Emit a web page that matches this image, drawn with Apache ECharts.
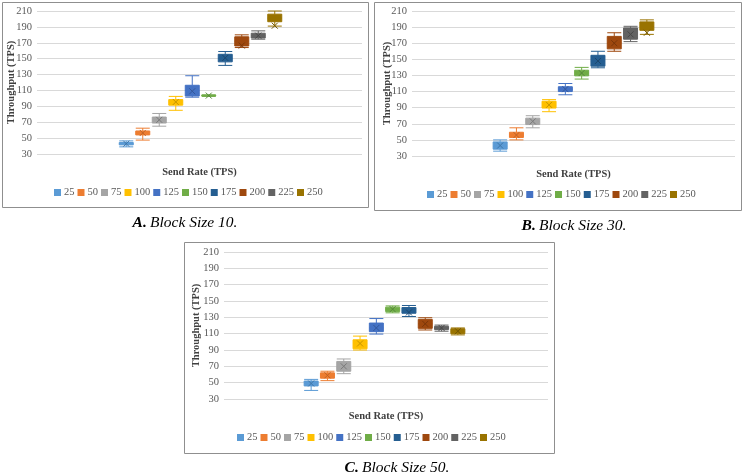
<!DOCTYPE html>
<html>
<head>
<meta charset="utf-8">
<script src="https://cdn.jsdelivr.net/npm/echarts@6/dist/echarts.min.js"></script>
<style>
  html, body { margin: 0; padding: 0; background: #fff; }
  #chart { width: 743px; height: 475px; }
</style>
</head>
<body>
<div id="chart"></div>
<script>
// send rates (legend / categories)
var sendRates = ['25', '50', '75', '100', '125', '150', '175', '200', '225', '250'];

// [min, q1, median, q3, max] per send rate
var block10Box = [
  [39, 41.5, 42.5, 44.5, 46.5],
  [47.5, 54, 56.5, 59, 62.5],
  [65, 69, 73, 76.5, 81],
  [85, 91.5, 95.5, 98.5, 102.5],
  [101.5, 103, 110, 116.5, 128.5],
  [102.5, 103, 103.5, 104, 104.5],
  [141.5, 146, 150.5, 155.5, 159],
  [164, 166, 172, 177.5, 180],
  [174.5, 176, 179, 182, 185],
  [191, 196.5, 201, 206, 210]
];
var block10Mean = [43, 56.5, 73, 95.5, 109, 103.5, 151, 166.5, 179, 191.5];

var block30Box = [
  [36, 38.5, 42, 47.5, 50],
  [50, 53, 56, 59.5, 65],
  [65, 69, 73, 77, 80],
  [85, 89.5, 93, 98, 100],
  [106, 110, 113, 116, 120],
  [125.5, 129.5, 133, 136.5, 140],
  [139.5, 141.5, 148, 155, 160],
  [160, 163, 170, 178.5, 183],
  [172, 175, 182, 189, 191],
  [181, 186, 191, 196.5, 199]
];
var block30Mean = [43, 56, 73, 93.5, 113, 133, 148, 170, 181, 183];

var block50Box = [
  [40.5, 46, 49, 52, 54],
  [52.5, 55.5, 59, 62, 64],
  [61, 64, 68, 76, 79],
  [90, 91.5, 98, 102.5, 107],
  [109.5, 112.5, 117, 123, 128.5],
  [135.5, 137, 140, 142.5, 144],
  [131, 135, 138, 142, 144.5],
  [114.5, 116.5, 122, 127.5, 129.5],
  [113, 115, 117, 119, 120.5],
  [108.5, 110, 113, 116, 117]
];
var block50Mean = [49, 59, 70, 98, 117, 140, 136, 122, 117, 113];

var yMin = 30, yMax = 210, yStep = 20;

var colors = ['#5B9BD5', '#ED7D31', '#A5A5A5', '#FFC000', '#4472C4',
              '#70AD47', '#255E91', '#9E480E', '#636363', '#997300'];
var meanColors = ['#3f76a8', '#bf6224', '#7a7a7a', '#c49400', '#33579a',
                  '#55873a', '#1b476e', '#7a3609', '#474747', '#735600'];

var FONT = 'Liberation Serif';

// panel layout
var panels = [
  { box: block10Box, mean: block10Mean, plot: [37, 11, 325, 143], narrow: [118, 165],
    yGap: 20, xGap: 13, legend: [49, 182] },
  { box: block30Box, mean: block30Mean, plot: [412, 11, 323, 145], narrow: [492, 163],
    yGap: 19.5, xGap: 13, legend: [422, 184] },
  { box: block50Box, mean: block50Mean, plot: [224, 252, 324, 147], narrow: [303, 163],
    yGap: 22, xGap: 12, legend: [232, 427] }
];

var grid = [], xAxis = [], yAxis = [], series = [], legend = [];

panels.forEach(function (p, i) {
  var g = i * 2;
  grid.push({ left: p.plot[0], top: p.plot[1], width: p.plot[2], height: p.plot[3] });
  grid.push({ left: p.narrow[0], top: p.plot[1], width: p.narrow[1], height: p.plot[3] });

  xAxis.push({
    gridIndex: g, type: 'category', data: [''],
    axisLine: { show: false }, axisTick: { show: false }, axisLabel: { show: false },
    name: 'Send Rate (TPS)', nameLocation: 'middle', nameGap: p.xGap, nameMoveOverlap: false,
    nameTextStyle: { fontFamily: FONT, fontWeight: 'bold', fontSize: 10.5, color: '#404040' }
  });
  xAxis.push({
    gridIndex: g + 1, type: 'category', data: sendRates, show: false
  });

  yAxis.push({
    gridIndex: g, type: 'value', min: yMin, max: yMax, interval: yStep,
    axisLine: { show: false }, axisTick: { show: false },
    axisLabel: { fontFamily: FONT, fontSize: 10.5, color: '#595959', margin: 5 },
    splitLine: { lineStyle: { color: '#d9d9d9', width: 1 } },
    name: 'Throughput (TPS)', nameLocation: 'middle', nameRotate: 90, nameGap: p.yGap,
    nameMoveOverlap: false,
    nameTextStyle: { fontFamily: FONT, fontWeight: 'bold', fontSize: 10.5, color: '#404040' }
  });
  yAxis.push({
    gridIndex: g + 1, type: 'value', min: yMin, max: yMax, show: false
  });

  series.push({
    type: 'boxplot',
    xAxisIndex: g + 1, yAxisIndex: g + 1,
    boxWidth: [14, 14],
    silent: true,
    data: p.box.map(function (v, k) {
      return { value: v, itemStyle: { color: colors[k], borderColor: colors[k], borderWidth: 1 } };
    })
  });
  series.push({
    type: 'scatter',
    xAxisIndex: g + 1, yAxisIndex: g + 1,
    symbol: 'path://M0,0L10,10M10,0L0,10',
    symbolSize: 6,
    silent: true,
    data: p.mean.map(function (v, k) {
      return { value: v, itemStyle: { color: 'none', borderColor: meanColors[k], borderWidth: 1, opacity: 1 } };
    })
  });

  legend.push({
    data: sendRates, left: p.legend[0], top: p.legend[1],
    icon: 'rect', itemWidth: 7, itemHeight: 7, itemGap: 3,
    selectedMode: false,
    textStyle: { fontFamily: FONT, fontSize: 10.5, color: '#595959', padding: [0, 0, 0, -2] }
  });
});

// empty series so the legends carry the send-rate colours
sendRates.forEach(function (name, k) {
  series.push({
    type: 'scatter', name: name, xAxisIndex: 0, yAxisIndex: 0, data: [],
    itemStyle: { color: colors[k], opacity: 1 }
  });
});

function caption(letter, text, x, y) {
  return {
    type: 'text', x: x, y: y,
    style: {
      text: '{b|' + letter + '} {i|' + text + '}',
      align: 'center', verticalAlign: 'middle',
      rich: {
        b: { fontFamily: FONT, fontSize: 15.5, fontWeight: 'bold', fontStyle: 'italic', fill: '#000' },
        i: { fontFamily: FONT, fontSize: 15.5, fontStyle: 'italic', fill: '#000' }
      }
    }
  };
}

function frame(x, y, w, h) {
  return {
    type: 'rect', shape: { x: x + 0.5, y: y + 0.5, width: w, height: h },
    style: { fill: 'none', stroke: '#8f8f8f', lineWidth: 1 }, silent: true
  };
}

var chart = echarts.init(document.getElementById('chart'));
chart.setOption({
  backgroundColor: '#fff',
  animation: false,
  grid: grid,
  xAxis: xAxis,
  yAxis: yAxis,
  legend: legend,
  series: series,
  graphic: [
    frame(2, 2, 366, 205),
    frame(374, 2, 367, 208),
    frame(184, 242, 370, 211),
    caption('A.', 'Block Size 10.', 185, 223),
    caption('B.', 'Block Size 30.', 574, 226),
    caption('C.', 'Block Size 50.', 397, 468)
  ]
});
</script>
</body>
</html>
